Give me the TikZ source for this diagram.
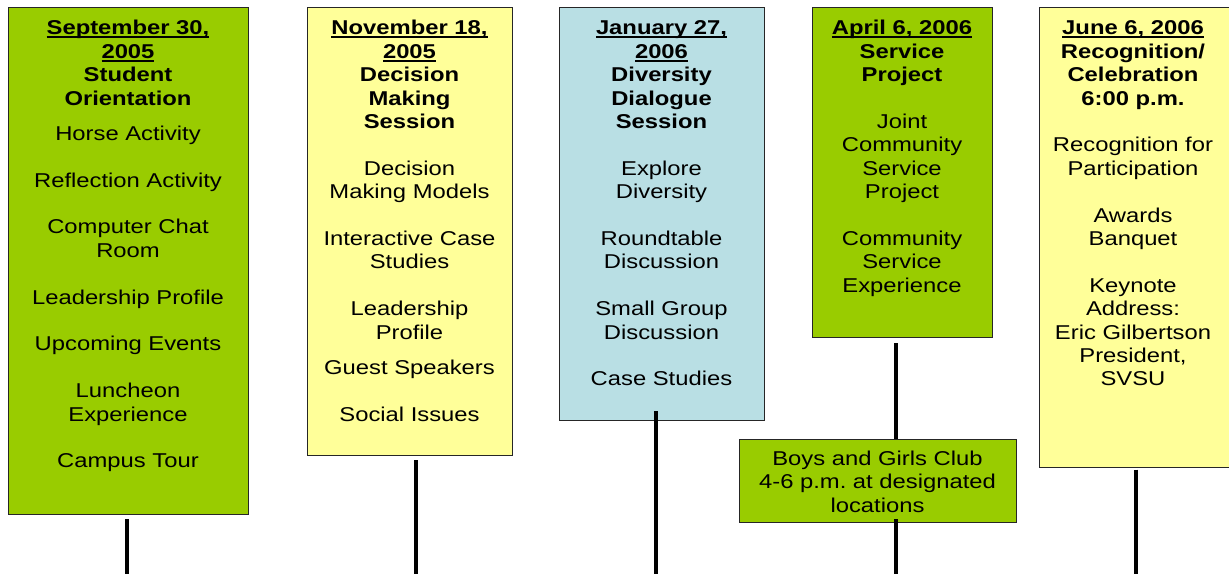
\documentclass[tikz,border=0pt]{standalone}
\usepackage{fontspec}
\setmainfont{Liberation Sans}[FakeStretch=1.19]
\frenchspacing

\definecolor{leaf}{HTML}{99CC00}
\definecolor{cream}{HTML}{FFFF99}
\definecolor{aqua}{HTML}{B9DFE4}

% bold, underlined date line with the rule at a fixed depth
\newsavebox\datebox
\newcommand\dateline[1]{\sbox\datebox{\bfseries #1}\rlap{\rule[-3.3pt]{\wd\datebox}{1.8pt}}\usebox\datebox}
\newcommand\gap{\\[11.7pt]}
\newcommand\skipline{\\[23.4pt]}

\tikzset{
  panel/.style={draw=black!85, line width=1pt, anchor=north west, inner sep=0pt},
  caption/.style={anchor=north, align=center, inner sep=0pt,
    font=\fontsize{20}{23.4}\selectfont},
  stem/.style={line width=4.2pt, black},
}

\begin{document}
\begin{tikzpicture}[x=1pt, y=-1pt]
\clip (0,0) rectangle (1229,573);
\fill[white] (0,0) rectangle (1229,573);

% event panels
\node[panel, fill=leaf,  minimum width=240pt, minimum height=507pt] (b1) at (8,7) {};
\node[panel, fill=cream, minimum width=205pt, minimum height=448pt] (b2) at (307,7) {};
\node[panel, fill=aqua,  minimum width=205pt, minimum height=413pt] (b3) at (559,7) {};
\node[panel, fill=leaf,  minimum width=180pt, minimum height=330pt] (b4) at (812,7) {};
\node[panel, fill=cream, minimum width=200pt, minimum height=460pt] (b5) at (1039,7) {};
\node[panel, fill=leaf,  minimum width=277pt, minimum height=83pt]  (b6) at (739,439) {};

% panel texts
\node[caption] (t1) at (128,18.4) {\strut\dateline{September 30,}\\
  \dateline{2005}\\ \textbf{Student}\\ \textbf{Orientation}\gap
  Horse Activity\skipline Reflection Activity\skipline
  Computer Chat\\ Room\skipline Leadership Profile\skipline
  Upcoming Events\skipline Luncheon\\ Experience\skipline Campus Tour};

\node[caption] (t2) at (409.5,18.4) {\strut\dateline{November 18,}\\
  \dateline{2005}\\ \textbf{Decision}\\ \textbf{Making}\\ \textbf{Session}\skipline
  Decision\\ Making Models\skipline Interactive Case\\ Studies\skipline
  Leadership\\ Profile\gap Guest Speakers\skipline Social Issues};

\node[caption] (t3) at (661.5,18.4) {\strut\dateline{January 27,}\\
  \dateline{2006}\\ \textbf{Diversity}\\ \textbf{Dialogue}\\ \textbf{Session}\skipline
  Explore\\ Diversity\skipline Roundtable\\ Discussion\skipline
  Small Group\\ Discussion\skipline Case Studies};

\node[caption] (t4) at (902,18.4) {\strut\dateline{April 6, 2006}\\
  \textbf{Service}\\ \textbf{Project}\skipline
  Joint\\ Community\\ Service\\ Project\skipline
  Community\\ Service\\ Experience};

\node[caption] (t5) at (1133,18.4) {\strut\dateline{June 6, 2006}\\
  \textbf{Recognition/}\\ \textbf{Celebration}\\ \textbf{6:00 p.m.}\skipline
  Recognition for\\ Participation\skipline Awards\\ Banquet\skipline
  Keynote\\ Address:\\ Eric Gilbertson\\ President,\\ SVSU};

\node[caption] (t6) at (877.5,449) {\strut Boys and Girls Club\\
  4-6 p.m. at designated\\ locations};

% timeline stems running off the bottom edge
\coordinate (g1) at (127,580);
\coordinate (g2) at (416,580);
\coordinate (g3) at (656,580);
\coordinate (g4) at (896,580);
\coordinate (g5) at (1136,580);

\draw[stem] (b1.south -| g1) ++(0,4) -- (g1);
\draw[stem] (b2.south -| g2) ++(0,4) -- (g2);
\draw[stem] (b3.south -| g3) ++(0,-10) -- (g3);
\draw[stem] (b4.south -| g4) ++(0,5) -- (b6.north -| g4);
\draw[stem] (b6.south -| g4) ++(0,-4) -- (g4);
\draw[stem] (b5.south -| g5) ++(0,1.5) -- (g5);
\end{tikzpicture}
\end{document}
